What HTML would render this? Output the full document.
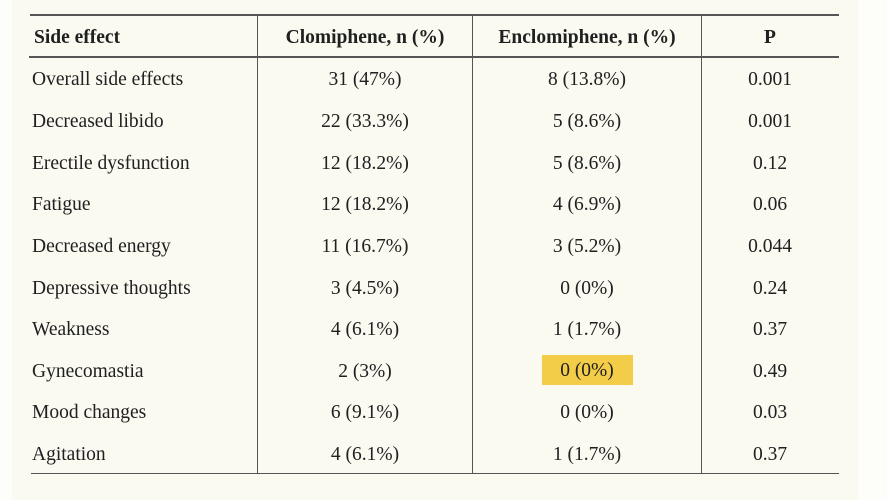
<!DOCTYPE html>
<html><head><meta charset="utf-8"><style>
html,body{margin:0;padding:0;}
body{width:887px;height:500px;background:#fdfdfa;position:relative;overflow:hidden;font-family:"Liberation Serif",serif;color:#202020;}
.bg{position:absolute;left:12px;top:0;width:846px;height:500px;background:#fafaf1;}
.h{position:absolute;height:1.5px;background:#555;}
.v{position:absolute;width:1.4px;background:#555;top:14px;height:460px;}
.t{position:absolute;height:30px;line-height:30px;font-size:19.5px;white-space:nowrap;}
.c1{left:32px;}
.c2{left:257px;width:216px;text-align:center;}
.c3{left:473px;width:228px;text-align:center;}
.c4{left:701px;width:138px;text-align:center;}
.b{font-weight:bold;}
.hl{position:absolute;left:542px;top:355px;width:91px;height:30px;background:#f4cd48;}
</style></head><body>
<div class="bg"></div>
<div class="h" style="left:30px;width:809px;top:14px;"></div>
<div class="h" style="left:29px;width:810px;top:56px;"></div>
<div class="h" style="left:31px;width:808px;top:472.5px;"></div>
<div class="v" style="left:256.5px;"></div>
<div class="v" style="left:472px;"></div>
<div class="v" style="left:700.5px;"></div>
<div class="hl"></div>

<div class="t b c1" style="top:23px;left:34px;">Side effect</div>
<div class="t b c2" style="top:23px;">Clomiphene, n (%)</div>
<div class="t b c3" style="top:23px;">Enclomiphene, n (%)</div>
<div class="t b c4" style="top:23px;">P</div>

<div class="t c1" style="top:65px;">Overall side effects</div>
<div class="t c2" style="top:65px;">31 (47%)</div>
<div class="t c3" style="top:65px;">8 (13.8%)</div>
<div class="t c4" style="top:65px;">0.001</div>

<div class="t c1" style="top:107px;">Decreased libido</div>
<div class="t c2" style="top:107px;">22 (33.3%)</div>
<div class="t c3" style="top:107px;">5 (8.6%)</div>
<div class="t c4" style="top:107px;">0.001</div>

<div class="t c1" style="top:149px;">Erectile dysfunction</div>
<div class="t c2" style="top:149px;">12 (18.2%)</div>
<div class="t c3" style="top:149px;">5 (8.6%)</div>
<div class="t c4" style="top:149px;">0.12</div>

<div class="t c1" style="top:190px;">Fatigue</div>
<div class="t c2" style="top:190px;">12 (18.2%)</div>
<div class="t c3" style="top:190px;">4 (6.9%)</div>
<div class="t c4" style="top:190px;">0.06</div>

<div class="t c1" style="top:232px;">Decreased energy</div>
<div class="t c2" style="top:232px;">11 (16.7%)</div>
<div class="t c3" style="top:232px;">3 (5.2%)</div>
<div class="t c4" style="top:232px;">0.044</div>

<div class="t c1" style="top:274px;">Depressive thoughts</div>
<div class="t c2" style="top:274px;">3 (4.5%)</div>
<div class="t c3" style="top:274px;">0 (0%)</div>
<div class="t c4" style="top:274px;">0.24</div>

<div class="t c1" style="top:315px;">Weakness</div>
<div class="t c2" style="top:315px;">4 (6.1%)</div>
<div class="t c3" style="top:315px;">1 (1.7%)</div>
<div class="t c4" style="top:315px;">0.37</div>

<div class="t c1" style="top:357px;">Gynecomastia</div>
<div class="t c2" style="top:357px;">2 (3%)</div>
<div class="t c3" style="top:356px;">0 (0%)</div>
<div class="t c4" style="top:357px;">0.49</div>

<div class="t c1" style="top:398px;">Mood changes</div>
<div class="t c2" style="top:398px;">6 (9.1%)</div>
<div class="t c3" style="top:398px;">0 (0%)</div>
<div class="t c4" style="top:398px;">0.03</div>

<div class="t c1" style="top:440px;">Agitation</div>
<div class="t c2" style="top:440px;">4 (6.1%)</div>
<div class="t c3" style="top:440px;">1 (1.7%)</div>
<div class="t c4" style="top:440px;">0.37</div>
</body></html>
